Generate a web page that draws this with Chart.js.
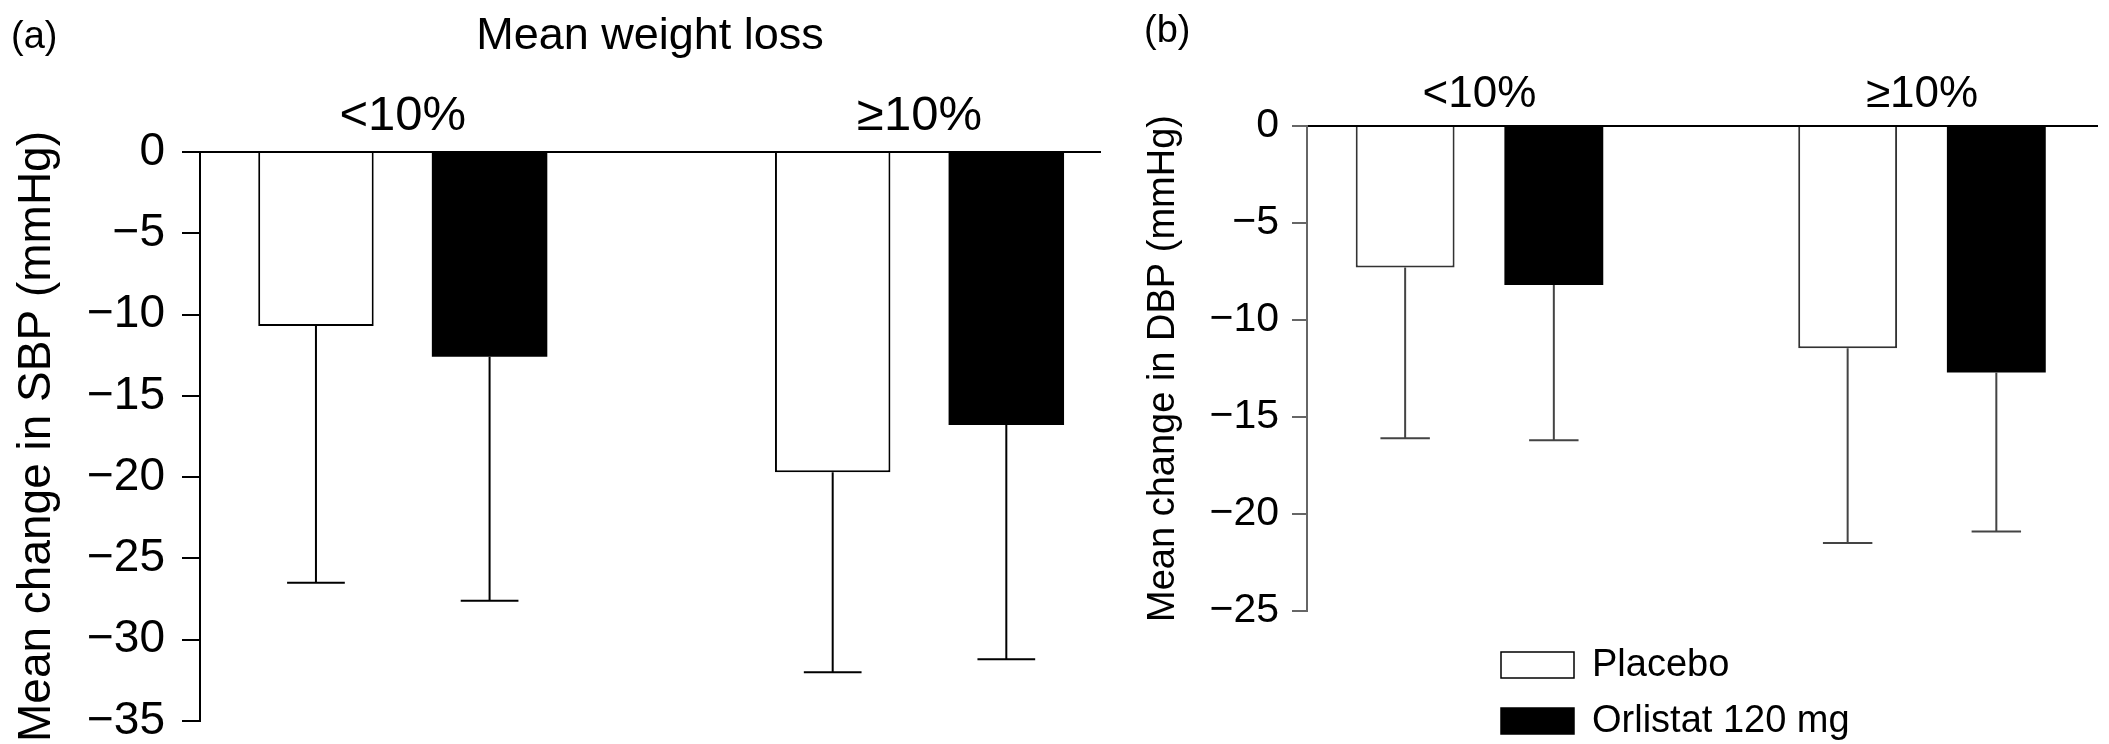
<!DOCTYPE html>
<html>
<head>
<meta charset="utf-8">
<script src="https://cdn.jsdelivr.net/npm/chart.js@4.4.1/dist/chart.umd.min.js"></script>
<style>
  html, body { margin: 0; padding: 0; background: #fff; overflow: hidden; }
  #wrap { position: relative; width: 2109px; height: 744px; }
  .panel { position: absolute; top: 0; height: 744px; }
  .tag {
    position: absolute; margin: 0;
    font: 38px/1 "Liberation Sans", Arial, sans-serif; color: #000;
  }
</style>
</head>
<body>
<div id="wrap">
  <div class="panel" style="left:0;width:1110px"><canvas id="sbp"></canvas></div>
  <div class="panel" style="left:1110px;width:999px"><canvas id="dbp"></canvas></div>
  <div class="tag" style="left:11px;top:16px">(a)</div>
  <div class="tag" style="left:1144px;top:10px">(b)</div>
</div>
<script>
// ── Data ───────────────────────────────────────────────
const GROUPS = ['<10%', '\u226510%'];
const TREATMENTS = ['Placebo', 'Orlistat 120 mg'];

// (a) mean change in SBP, and lower end of the error bar (mean − SD)
const SBP_PLACEBO      = [-10.7, -19.7];
const SBP_PLACEBO_LOW  = [-26.5, -32.0];
const SBP_ORLISTAT     = [-12.6, -16.8];
const SBP_ORLISTAT_LOW = [-27.6, -31.2];

// (b) mean change in DBP
const DBP_PLACEBO      = [-7.3, -11.45];
const DBP_PLACEBO_LOW  = [-16.1, -21.5];
const DBP_ORLISTAT     = [-8.2, -12.7];
const DBP_ORLISTAT_LOW = [-16.2, -20.9];

// ── Helpers ────────────────────────────────────────────
const FAMILY = '"Liberation Sans", Arial, sans-serif';
const font = size => ({ family: FAMILY, size, lineHeight: 1.2 });
const minus = v => (v < 0 ? '\u2212' + Math.abs(v) : String(v));
const pts = vals => vals.map((y, i) => ({ x: i + 1, y }));

// ── Plugins ────────────────────────────────────────────
// one-sided (downward) error bars, cap = half the bar width
const errorBars = {
  id: 'errorBars',
  afterDatasetsDraw(chart, args, opts) {
    const { ctx, scales: { y } } = chart;
    ctx.save();
    ctx.strokeStyle = opts.color;
    ctx.lineWidth = opts.width;
    chart.data.datasets.forEach((ds, i) => {
      chart.getDatasetMeta(i).data.forEach((bar, j) => {
        const yLow = y.getPixelForValue(ds.errLow[j]);
        const half = bar.width * 0.25;
        ctx.beginPath();
        ctx.moveTo(bar.x, bar.y);
        ctx.lineTo(bar.x, yLow);
        ctx.moveTo(bar.x - half, yLow);
        ctx.lineTo(bar.x + half, yLow);
        ctx.stroke();
      });
    });
    ctx.restore();
  },
};

// stacked legend under the plot
const boxLegend = {
  id: 'boxLegend',
  afterDraw(chart, args, opts) {
    const { ctx, chartArea } = chart;
    ctx.save();
    ctx.font = `${opts.size}px ${FAMILY}`;
    ctx.textBaseline = 'middle';
    chart.data.datasets.forEach((ds, i) => {
      const x = chartArea.left + opts.left;
      const y = chartArea.bottom + opts.top + i * opts.rowGap;
      ctx.fillStyle = ds.backgroundColor;
      ctx.fillRect(x, y, opts.boxW, opts.boxH);
      ctx.strokeStyle = '#000';
      ctx.lineWidth = 1.5;
      ctx.strokeRect(x, y, opts.boxW, opts.boxH);
      ctx.fillStyle = '#000';
      ctx.fillText(ds.label, x + opts.boxW + opts.gap, y + opts.boxH / 2 + 1);
    });
    ctx.restore();
  },
};

// ── Chart builder ──────────────────────────────────────
function buildPanel(canvasId, cfg) {
  const datasets = [
    {
      label: TREATMENTS[0], data: pts(cfg.placebo), errLow: cfg.placeboLow,
      backgroundColor: '#fff', borderColor: cfg.barEdge, borderWidth: 2,
    },
    {
      label: TREATMENTS[1], data: pts(cfg.orlistat), errLow: cfg.orlistatLow,
      backgroundColor: '#000', borderColor: '#000', borderWidth: 0,
    },
  ];
  return new Chart(document.getElementById(canvasId), {
    type: 'bar',
    data: { datasets },
    options: {
      animation: false,
      responsive: true,
      maintainAspectRatio: false,
      events: [],
      categoryPercentage: 0.672,
      barPercentage: 0.665,
      layout: { padding: cfg.padding },
      scales: {
        x: {
          type: 'linear',
          position: 'top',
          offset: false,
          min: cfg.xMin, max: cfg.xMax,
          afterBuildTicks: s => { s.ticks = GROUPS.map((_, i) => ({ value: i + 1 })); },
          ticks: {
            callback: v => GROUPS[v - 1],
            font: font(cfg.catSize), color: '#000',
            padding: cfg.catPad, maxRotation: 0, autoSkip: false,
          },
          grid: { display: false, drawTicks: false },
          border: { display: true, color: '#000', width: 2 },
          title: cfg.title
            ? { display: true, text: cfg.title, font: font(45), color: '#000', padding: { top: 10, bottom: 0 } }
            : { display: false },
          afterFit: s => { s.height = cfg.top; s.paddingLeft = 0; s.paddingRight = 0; },
        },
        y: {
          min: cfg.yMin, max: 0,
          ticks: {
            stepSize: 5, callback: minus,
            font: font(cfg.tickSize), color: '#000', padding: cfg.tickPad,
          },
          grid: {
            drawOnChartArea: false, drawTicks: true,
            tickLength: cfg.tickLen, color: cfg.axis, lineWidth: 2,
          },
          border: { color: cfg.axis, width: 2 },
          title: {
            display: true, text: cfg.yTitle,
            font: font(cfg.yTitleSize), color: '#000', padding: 0,
          },
          afterFit: s => { s.width = cfg.yWidth; s.paddingTop = 0; s.paddingBottom = 0; },
        },
      },
      plugins: {
        legend: { display: false },
        tooltip: { enabled: false },
        errorBars: { color: cfg.err, width: 2 },
        boxLegend: cfg.legend || false,
      },
    },
    plugins: cfg.legend ? [errorBars, boxLegend] : [errorBars],
  });
}

buildPanel('sbp', {
  placebo: SBP_PLACEBO, placeboLow: SBP_PLACEBO_LOW,
  orlistat: SBP_ORLISTAT, orlistatLow: SBP_ORLISTAT_LOW,
  title: 'Mean weight loss',
  yTitle: 'Mean change in SBP (mmHg)',
  yMin: -35, xMin: 0.6076, xMax: 2.3493,
  padding: { left: 10, right: 10, top: 0, bottom: 23 },
  top: 152, yWidth: 190,
  catSize: 49, catPad: 6, tickSize: 46, tickPad: 17, tickLen: 18, yTitleSize: 46,
  axis: '#000', barEdge: '#000', err: '#000',
});

buildPanel('dbp', {
  placebo: DBP_PLACEBO, placeboLow: DBP_PLACEBO_LOW,
  orlistat: DBP_ORLISTAT, orlistatLow: DBP_ORLISTAT_LOW,
  title: null,
  yTitle: 'Mean change in DBP (mmHg)',
  yMin: -25, xMin: 0.6102, xMax: 2.3955,
  padding: { left: 31, right: 12, top: 0, bottom: 133 },
  top: 126, yWidth: 166,
  catSize: 44, catPad: 5, tickSize: 41, tickPad: 13, tickLen: 15, yTitleSize: 38,
  axis: '#666', barEdge: '#333', err: '#444',
  legend: { left: 194, top: 41, rowGap: 56, boxW: 73, boxH: 26, gap: 18, size: 38 },
});
</script>
</body>
</html>
